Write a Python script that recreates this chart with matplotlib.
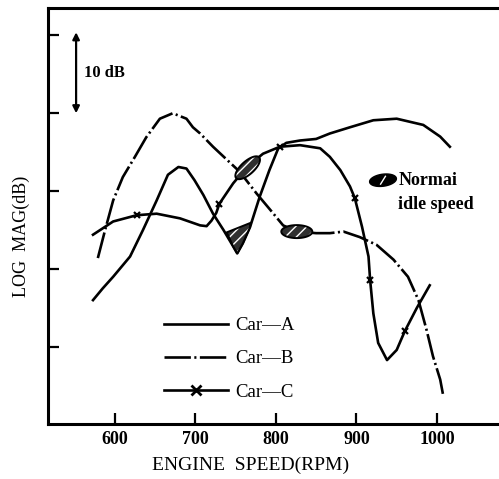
import numpy as np
import matplotlib
matplotlib.use("Agg")
import matplotlib.pyplot as plt
from matplotlib.lines import Line2D

# engine speed (rpm) / log magnitude (dB)
car_a_rpm = [573, 585, 598, 619, 635, 652, 666, 679, 689, 699, 710, 722, 735, 747, 752, 759,
             768, 780, 792, 803, 813, 830, 850, 867, 892, 921, 950, 983, 1004, 1016]
car_a_db = [6.0, 7.5, 9.0, 11.6, 15.0, 18.8, 22.1, 23.1, 22.9, 21.4, 19.5, 17.1, 15.0, 12.9,
            12.0, 13.3, 15.4, 19.3, 22.7, 25.5, 26.2, 26.5, 26.7, 27.4, 28.2, 29.1, 29.3, 28.5,
            27.0, 25.7]

car_b_rpm = [579, 588, 598, 610, 625, 639, 656, 672, 689, 697, 706, 722, 755, 776, 793, 809,
             826, 850, 867, 884, 904, 925, 946, 964, 977, 987, 995, 1004, 1008]
car_b_db = [11.4, 15.0, 18.8, 21.8, 24.4, 26.9, 29.3, 30.0, 29.3, 28.2, 27.4, 25.7, 22.5, 19.7,
            17.6, 15.6, 14.8, 14.6, 14.6, 14.8, 14.1, 13.1, 11.2, 9.0, 6.0, 2.2, -1.2, -4.2, -6.4]

car_c_rpm = [573, 598, 627, 652, 681, 706, 714, 720, 726, 730, 747, 764, 784, 805, 830, 855,
             867, 880, 892, 898, 907, 915, 917, 921, 927, 938, 950, 960, 975, 991]
car_c_db = [14.4, 16.1, 16.9, 17.1, 16.5, 15.6, 15.5, 16.2, 17.2, 18.4, 21.0, 23.1, 24.8, 25.7,
            25.9, 25.5, 24.4, 22.7, 20.6, 19.1, 15.4, 11.6, 8.6, 4.3, 0.5, -1.7, -0.4, 2.0, 5.0,
            7.9]
car_c_marks = [2, 9, 13, 19, 22, 27]

# normal idle speed spots (rpm, dB, tilt in degrees on screen)
idle_rpm = [826, 765]
idle_db = [14.8, 23.0]
idle_tilt = [0, 42]

x_ticks = [600, 700, 800, 900, 1000]
y_ticks = [0, 10, 20, 30, 40]

plt.rcParams['font.family'] = ['Liberation Serif', 'DejaVu Serif']

fig = plt.figure(figsize=(4.99, 4.79), dpi=100)
ax = fig.add_axes([0.096, 0.115, 0.904, 0.868])
ax.set_xlim(517, 1077)
ax.set_ylim(-9.9, 43.5)

lw = 1.9
dash_b = (10, 1.3, 0.8, 1.3)
ax.plot(car_a_rpm, car_a_db, color="black", lw=lw, solid_joinstyle="round")
ax.plot(car_b_rpm, car_b_db, color="black", lw=lw, dashes=dash_b)
ax.plot(car_c_rpm, car_c_db, color="black", lw=lw, marker="x", markevery=car_c_marks,
        markersize=5, markeredgewidth=1.6, solid_joinstyle="round")

# pixel scale of the axes, used to make spots round on screen
fig.canvas.draw()
bb = ax.get_window_extent()
px_per_rpm = bb.width / (1077 - 517)
px_per_db = bb.height / (43.5 + 9.9)


def shade(xs, ys):
    ax.fill(xs, ys, facecolor="#303030", edgecolor="white", hatch="///", lw=0, zorder=3)
    ax.fill(xs, ys, facecolor="none", edgecolor="black", lw=1.4, zorder=3)


def ellipse(xc, yc, w_px, h_px, tilt):
    t = np.linspace(0, 2 * np.pi, 60)
    a = np.radians(tilt)
    ex = w_px / 2 * np.cos(t)
    ey = h_px / 2 * np.sin(t)
    dx = ex * np.cos(a) - ey * np.sin(a)
    dy = ex * np.sin(a) + ey * np.cos(a)
    return xc + dx / px_per_rpm, yc + dy / px_per_db


for xc, yc, tilt in zip(idle_rpm, idle_db, idle_tilt):
    shade(*ellipse(xc, yc, 31, 13, tilt))

# Car-A trough spot
trough = [(r, d) for r, d in zip(car_a_rpm, car_a_db) if 740 <= r <= 768]
tx = [739] + [p[0] for p in trough] + [768]
ty = [14.7] + [p[1] for p in trough] + [15.9]
shade(tx, ty)

# key
kx, ky = ellipse(933, 21.4, 27, 12, 8)
ax.fill(kx, ky, facecolor="black", edgecolor="black", lw=1, zorder=3)
ax.plot([930, 936], [20.9, 21.9], color="white", lw=1, zorder=4)
ax.text(952, 21.4, "Normai", fontsize=13, fontweight="bold", va="center", ha="left")
ax.text(951, 18.3, "idle speed", fontsize=13, fontweight="bold", va="center", ha="left")

# 10 dB scale bar
ax.annotate("", xy=(552, 40.4), xytext=(552, 30.0),
            arrowprops=dict(arrowstyle="<|-|>", color="black", lw=1.6,
                            mutation_scale=10, shrinkA=0, shrinkB=0))
ax.text(562, 35.2, "10 dB", fontsize=12, fontweight="bold", va="center", ha="left")

handles = [
    Line2D([], [], color="black", lw=lw),
    Line2D([], [], color="black", lw=lw, dashes=dash_b),
    Line2D([], [], color="black", lw=lw, marker="x", markersize=7, markeredgewidth=2),
]
leg = ax.legend(handles, ["Car—A", "Car—B", "Car—C"], loc="upper left",
                bbox_to_anchor=(0.22, 0.297), frameon=False, handlelength=3.4,
                handletextpad=0.4, labelspacing=0.85,
                prop=dict(size=13.5))

ax.set_xticks(x_ticks)
ax.set_yticks(y_ticks)
ax.set_yticklabels([])
ax.tick_params(direction="in", length=8, width=1.6, pad=5)
for lab in ax.get_xticklabels():
    lab.set_fontweight("bold")
    lab.set_fontsize(13)

for s in ["top", "left", "bottom"]:
    ax.spines[s].set_linewidth(2.2)
ax.spines["right"].set_visible(False)

ax.set_xlabel("ENGINE  SPEED(RPM)", fontsize=14)
ax.xaxis.set_label_coords(0.45, -0.078)
ax.set_ylabel("LOG  MAG(dB)", fontsize=13)
ax.yaxis.set_label_coords(-0.04, 0.452)

fig.savefig("out.png", dpi=100)
